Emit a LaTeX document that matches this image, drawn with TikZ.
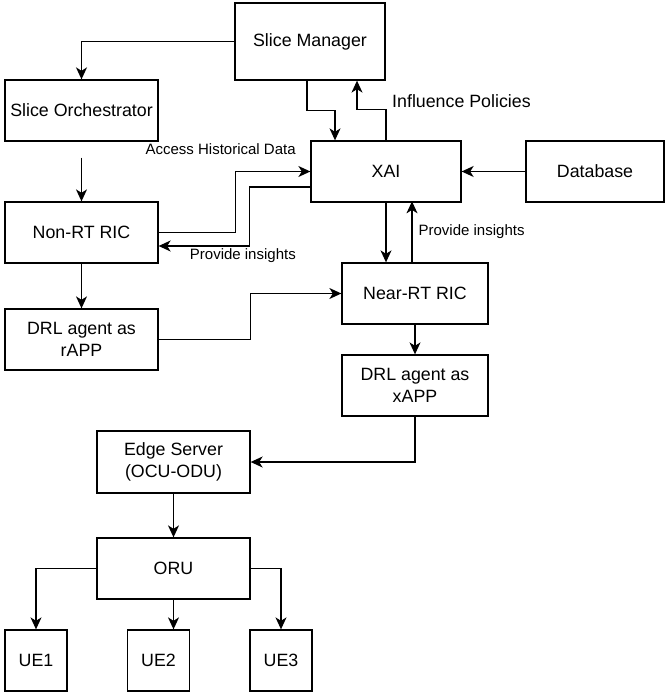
\documentclass[tikz,border=0pt]{standalone}
\usepackage{fontspec}
\setmainfont{Liberation Sans}
\usepackage{tikz}
\usetikzlibrary{positioning, arrows.meta}

\begin{document}
\begin{tikzpicture}[x=1pt,y=1pt]
	\tikzstyle{box}=[draw=black,line width=1.3pt,rectangle,align=center,minimum width=153pt,minimum height=61pt,inner sep=0pt,font=\fontsize{17.8}{21.5}\selectfont]
	\tikzstyle{ue}=[box,minimum width=62pt]
	\tikzstyle{lbl}=[inner sep=0pt,font=\fontsize{15}{18}\selectfont]
	\tikzstyle{arr}=[line width=1.3pt,-{Stealth[length=12pt,width=11pt,inset=3.5pt]}]
	\useasboundingbox (0,0) rectangle (669,-692);
	% boxes
	\node[box,minimum width=150pt,minimum height=77pt](sm) at (310,-41.5){Slice Manager};
	\node[box](so) at (81.5,-110.5){Slice Orchestrator};
	\node[box,minimum width=150pt](xai) at (386,-171.5){XAI};
	\node[box,minimum width=138pt](db) at (595,-171.5){Database};
	\node[box](nonrt) at (81.5,-232.5){Non-RT RIC};
	\node[box,minimum width=146pt](nearrt) at (415,-293.5){Near-RT RIC};
	\node[box](rapp) at (81.5,-339.5){DRL agent as\\rAPP};
	\node[box,minimum width=146pt](xapp) at (415,-385.5){DRL agent as\\xAPP};
	\node[box,minimum height=62pt](edge) at (173.5,-462){Edge Server\\(OCU-ODU)};
	\node[box](oru) at (173.5,-568.5){ORU};
	\node[ue](ue1) at (36,-660.5){UE1};
	\node[ue](ue2) at (158.5,-660.5){UE2};
	\node[ue](ue3) at (281,-660.5){UE3};
	% connections
	\draw[arr] (sm.west) -| (so.north);
	\draw[arr,shorten <=16pt] (so.south) -- (nonrt.north);
	\draw[arr] ([xshift=-3pt]sm.south) -- ++(0,-30) -| ([xshift=-51pt]xai.north);
	\draw[arr] (xai.north) -- ++(0,31) -| ([xshift=47pt]sm.south);
	\node[lbl,font=\fontsize{17.8}{21}\selectfont,anchor=west](infl) at (392,-101){Influence Policies};
	\draw[arr] (db.west) -- (xai.east);
	\draw[arr] (nonrt.east) -- ++(77,0) |- node[lbl,xshift=-15pt,yshift=22pt]{Access Historical Data} (xai.west);
	\draw[arr] ([yshift=-15.5pt]xai.west) -- ++(-61,0) |- node[lbl,xshift=-6.5pt,yshift=-10pt]{Provide insights} ([yshift=-13.5pt]nonrt.east);
	\draw[arr] (xai.south) -- (xai.south |- nearrt.north);
	\draw[arr] ([xshift=-3pt]nearrt.north) -- ++(0,61) node[lbl,pos=.5,anchor=west,xshift=6pt]{Provide insights};
	\path[arr]
		(nonrt) edge (rapp)
		(nearrt) edge (xapp)
		(edge) edge (oru);
	\draw[arr] (rapp.east) -- ++(92,0) |- (nearrt.west);
	\draw[arr] (xapp.south) |- (edge.east);
	\draw[arr] (oru.west) -| (ue1.north);
	\draw[arr] (oru.south) -- (oru.south |- ue2.north);
	\draw[arr] (oru.east) -| (ue3.north);
\end{tikzpicture}
\end{document}
